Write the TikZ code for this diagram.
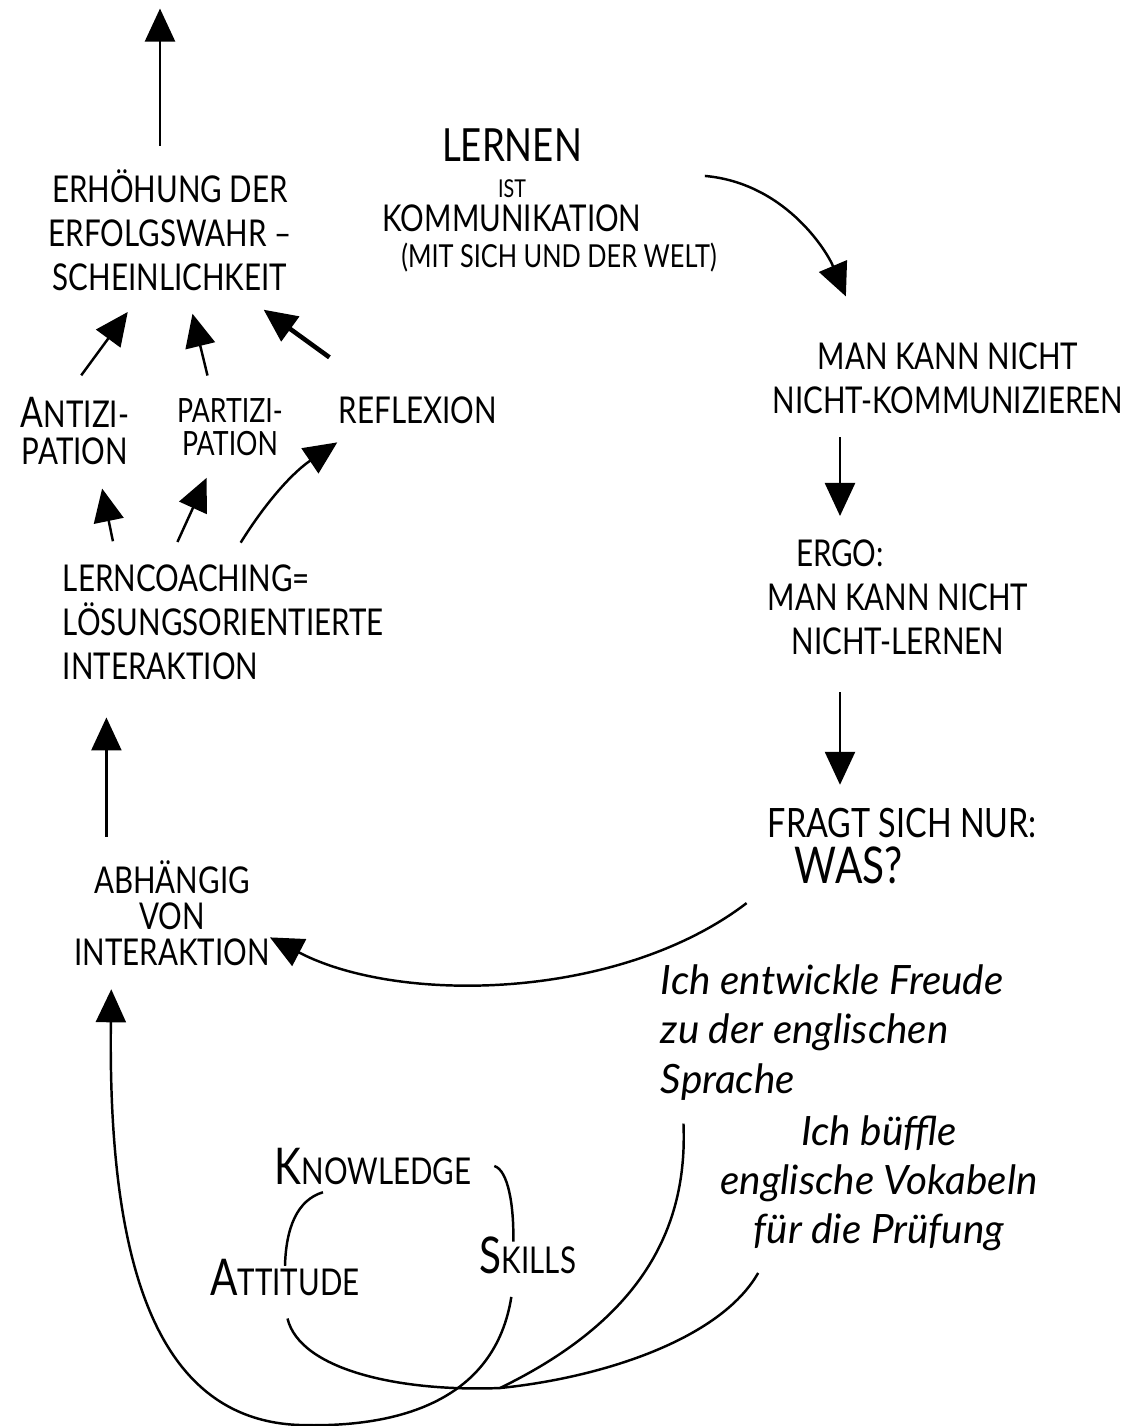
\documentclass[tikz,border=0pt]{standalone}
\usepackage{fontspec}
\setmainfont{Lato}
\newfontfamily\capsfont[FakeStretch=0.8]{Lato}
\usetikzlibrary{arrows.meta,positioning}

\begin{document}
\begin{tikzpicture}[x=0.01cm,y=-0.01cm,->,>={Triangle[length=0.33cm,width=0.3cm]},
                    shorten >=3pt,shorten <=3pt,line width=0.7pt,
                    capstext/.style={font=\capsfont\fontsize{10.5}{12.5}\selectfont,align=center},
                    handtext/.style={font=\itshape\fontsize{11.5}{14}\selectfont}]

 \useasboundingbox (0,0) rectangle (1141,1426);

 % left column
 \node[capstext] (erh) at (170,230) {ERHÖHUNG DER\\ERFOLGSWAHR –\\SCHEINLICHKEIT};
 \coordinate (ziel) at (160,-2);
 \node[capstext,font=\capsfont\fontsize{10.5}{10.8}\selectfont] (antizi) at (75,431) {{\large A}NTIZI-\\PATION};
 \node[capstext,font=\capsfont\fontsize{9.5}{9.2}\selectfont] (partizi) at (230,427) {PARTIZI-\\PATION};
 \node[capstext] (reflexion) at (418,410) {REFLEXION};
 \node[capstext,align=left,anchor=west] (coaching) at (50,622) {LERNCOACHING=\\LÖSUNGSORIENTIERTE\\INTERAKTION};
 \node[capstext,font=\capsfont\fontsize{10.5}{10.3}\selectfont] (abh) at (172,913) {ABHÄNGIG\\VON\\INTERAKTION};

 % right column
 \node[capstext] (lernen) at (512,180) {{\fontsize{13}{14}\selectfont LERNEN}\\[-2pt]{\scriptsize IST}\\[-3pt]KOMMUNIKATION};
 \node[capstext,font=\capsfont\fontsize{9}{10}\selectfont] (welt) at (559,258) {(MIT SICH UND DER WELT)};
 \node[capstext] (nichtkomm) at (948,378) {MAN KANN NICHT\\NICHT-KOMMUNIZIEREN};
 \node[capstext] (ergo) at (840,553) {ERGO:};
 \node[capstext] (nichtlernen) at (898,619) {MAN KANN NICHT\\NICHT-LERNEN};
 \node[capstext,font=\capsfont\fontsize{11.5}{13}\selectfont,align=left,anchor=west] (frage) at (755,846) {FRAGT SICH NUR:\\\hspace*{0.27cm}{\Large WAS?}};

 % bottom
 \node[handtext,align=left,anchor=north west] (freude) at (648,952) {Ich entwickle Freude\\zu der englischen\\Sprache};
 \node[handtext,align=center] (bueffle) at (879,1183) {Ich büffle\\englische Vokabeln\\für die Prüfung};
 \node[capstext] (know) at (373,1166) {{\Large K}NOWLEDGE};
 \node[capstext] (skills) at (528,1255) {{\Large S}KILLS};
 \node[capstext] (attitude) at (285,1277) {{\Large A}TTITUDE};
 \coordinate (treff) at (500,1388);

 \draw (erh.north -| ziel) -- (ziel);
 \draw (antizi.north) -- ([xshift=-0.36cm]erh.south);
 \draw ([xshift=-0.2cm]partizi.north) -- ([xshift=0.2cm]erh.south);
 \draw[line width=1.3pt] ([xshift=0.12cm,yshift=0.2cm]reflexion.north west) -- ([xshift=0.85cm]erh.south);

 \draw ([xshift=0.65cm]coaching.north west) -- ([xshift=0.25cm]antizi.south);
 \draw ([xshift=1.23cm]coaching.north west) -- ([xshift=-0.19cm]partizi.south);
 \draw ([xshift=1.85cm]coaching.north west) to[bend left=12] ([xshift=0.2cm]reflexion.south west);
 \draw[shorten >=0.25cm] ([xshift=0.45cm]abh.north west) -- ([xshift=0.45cm]abh.north west |- coaching.south);

 \draw[shorten >=0.36cm] ([xshift=0.4cm,yshift=0.05cm]lernen.east) to[out=-5,in=113] ([xshift=-0.88cm]nichtkomm.north);
 \draw (nichtkomm.south -| ergo.north) -- (ergo.north);
 \draw[shorten <=0.25cm] (nichtlernen.south -| ergo.north) -- (frage.north -| ergo.north);
 \draw (frage.south west) .. controls (620,1000) and (400,1005) .. ([xshift=-0.22cm]abh.-10);

 % knowledge, skills, attitude
 \draw[-,shorten <=0pt,shorten >=0pt] ([xshift=0.1cm]know.east) .. controls (508,1170) and (514,1205) .. ([yshift=-0.18cm]skills.115);
 \draw[-,shorten <=0pt,shorten >=0pt] ([xshift=-0.5cm,yshift=0.05cm]know.south) .. controls (297,1200) and (286,1228) .. ([yshift=-0.2cm]attitude.north);
 \draw[-,shorten >=0pt] (attitude.south) .. controls (300,1370) and (400,1392) .. (treff);
 \draw[-,shorten >=0pt] ([xshift=0.35cm]freude.south west) .. controls (688,1230) and (640,1320) .. (treff);
 \draw[-,shorten >=0pt] ([xshift=0.56cm]bueffle.south west) .. controls (720,1340) and (600,1378) .. (treff);
 \draw ([xshift=-0.15cm]skills.south) .. controls (495,1400) and (400,1428) .. (300,1425)
       .. controls (150,1420) and (108,1250) .. ([xshift=0.5cm]abh.south west);
\end{tikzpicture}
\end{document}
